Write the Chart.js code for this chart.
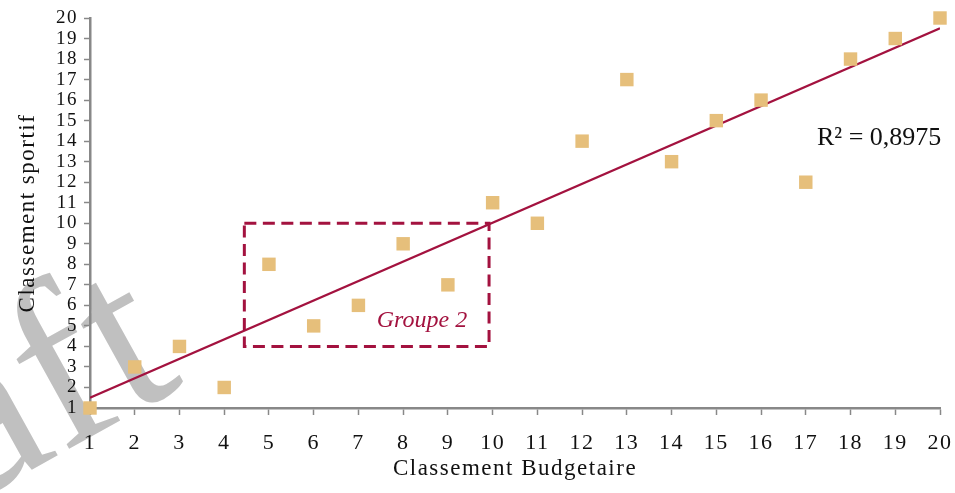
<!DOCTYPE html>
<html>
<head>
<meta charset="utf-8">
<script src="https://cdn.jsdelivr.net/npm/chart.js@4.4.1/dist/chart.umd.min.js"></script>
<style>
  html, body { margin: 0; padding: 0; background: #ffffff; }
  #wrap { width: 955px; height: 493px; position: relative; }
</style>
</head>
<body>
<div id="wrap"><canvas id="c" width="955" height="493"></canvas></div>
<script>
// ---- data ----
const budgetRank = [1, 2, 3, 4, 5, 6, 7, 8, 9, 10, 11, 12, 13, 14, 15, 16, 17, 18, 19, 20];
const sportRank  = [1, 3, 4, 2, 8, 5, 6, 9, 7, 11, 10, 14, 17, 13, 15, 16, 12, 18, 19, 20];
const trendX = [1, 20];
const trendY = [1.5, 19.5];
const r2Label = 'R² = 0,8975';
const groupLabel = 'Groupe 2';
const groupBox = { x0: 4.45, x1: 9.92, y0: 4, y1: 10 };
const xTitle = 'Classement Budgetaire';
const yTitle = 'Classement sportif';
const watermark = 'Draft';

const SERIF = '"Liberation Serif", "Times New Roman", serif';
const CRIMSON = '#A3123F';
const GOLD = '#E6BF7B';
const AXIS = '#888888';

const points = budgetRank.map((x, i) => ({ x: x, y: sportRank[i] }));
const trend = trendX.map((x, i) => ({ x: x, y: trendY[i] }));

function zeroPad(s) { s.paddingLeft = 0; s.paddingRight = 0; s.paddingTop = 0; s.paddingBottom = 0; }

const extras = {
  id: 'extras',
  beforeDraw(chart) {
    const ctx = chart.ctx;
    ctx.letterSpacing = '0px';
    // watermark
    ctx.save();
    ctx.fillStyle = '#C0C0C0';
    ctx.font = '235px ' + SERIF;
    ctx.textAlign = 'right';
    ctx.textBaseline = 'alphabetic';
    ctx.translate(186, 384);
    ctx.rotate(-29 * Math.PI / 180);
    ctx.fillText(watermark, 0, 0);
    ctx.restore();
    ctx.letterSpacing = '1.5px';
  },
  beforeDatasetsDraw(chart) {
    const ctx = chart.ctx;
    ctx.letterSpacing = '0px';
    const xs = chart.scales.x, ys = chart.scales.y;
    ctx.save();
    ctx.strokeStyle = CRIMSON;
    ctx.lineWidth = 3;
    ctx.setLineDash([12, 6.5]);
    const l = xs.getPixelForValue(groupBox.x0), r = xs.getPixelForValue(groupBox.x1);
    const t = ys.getPixelForValue(groupBox.y1), b = ys.getPixelForValue(groupBox.y0);
    ctx.strokeRect(l, t, r - l, b - t);
    ctx.restore();
  },
  afterDatasetsDraw(chart) {
    const ctx = chart.ctx;
    const xs = chart.scales.x, ys = chart.scales.y;
    ctx.save();
    ctx.letterSpacing = '0px';
    ctx.fillStyle = CRIMSON;
    ctx.font = 'italic 24px ' + SERIF;
    ctx.textAlign = 'center';
    ctx.textBaseline = 'middle';
    ctx.fillText(groupLabel, xs.getPixelForValue(8.42), ys.getPixelForValue(5.24));
    ctx.fillStyle = '#111111';
    ctx.font = '26px ' + SERIF;
    ctx.fillText(r2Label, xs.getPixelForValue(18.64), ys.getPixelForValue(14.16));
    ctx.restore();
  }
};

new Chart(document.getElementById('c'), {
  type: 'scatter',
  data: {
    datasets: [
      {
        type: 'line',
        data: trend,
        borderColor: CRIMSON,
        borderWidth: 2.2,
        pointRadius: 0,
        fill: false,
        order: 2
      },
      {
        data: points,
        pointStyle: 'rect',
        pointRadius: 9.5,
        backgroundColor: GOLD,
        borderColor: GOLD,
        borderWidth: 0,
        order: 1,
        clip: false
      }
    ]
  },
  options: {
    responsive: false,
    animation: false,
    devicePixelRatio: 1,
    layout: { padding: { top: 18, right: 15, bottom: 0, left: 0 } },
    plugins: { legend: { display: false }, tooltip: { enabled: false } },
    scales: {
      x: {
        type: 'linear', min: 1, max: 20,
        afterFit: s => { s.height = 85; zeroPad(s); },
        ticks: { stepSize: 1, autoSkip: false, maxRotation: 0, color: '#111', padding: 15, font: { family: SERIF, size: 22 } },
        grid: { drawOnChartArea: false, drawTicks: true, tickLength: 7, tickColor: AXIS, tickWidth: 1.5 },
        border: { color: AXIS, width: 2.5 },
        title: { display: true, text: xTitle, color: '#111', font: { family: SERIF, size: 23 }, padding: { top: 0, bottom: 10 } }
      },
      y: {
        type: 'linear', min: 1, max: 20,
        afterFit: s => { s.width = 90; zeroPad(s); },
        ticks: { stepSize: 1, autoSkip: false, color: '#111', padding: 6, font: { family: SERIF, size: 19 } },
        grid: { drawOnChartArea: false, drawTicks: true, tickLength: 6, tickColor: AXIS, tickWidth: 1.5 },
        border: { color: AXIS, width: 2.5 },
        title: { display: true, text: yTitle, color: '#111', font: { family: SERIF, size: 23 }, padding: { top: 14, bottom: 0 } }
      }
    }
  },
  plugins: [extras]
});
</script>
</body>
</html>
